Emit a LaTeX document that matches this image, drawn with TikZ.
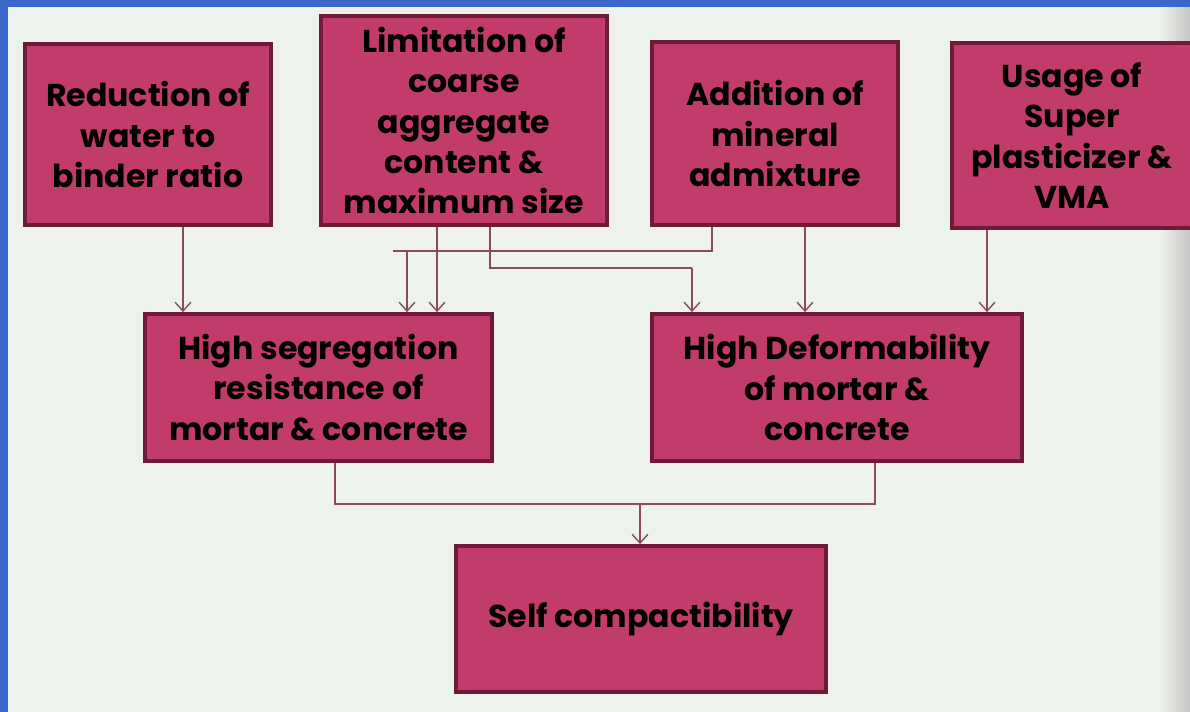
\documentclass[tikz,border=0pt]{standalone}
\usepackage{fontspec}
\setmainfont{Poppins}
\usetikzlibrary{arrows.meta, positioning, calc}
\definecolor{boxfill}{HTML}{C13B6B}
\definecolor{boxedge}{HTML}{6E1A38}
\definecolor{linkcol}{HTML}{8C4A5E}
\definecolor{paper}{HTML}{EEF2EC}
\definecolor{frame}{HTML}{3A67C8}

\begin{document}
\begin{tikzpicture}[x=0.02cm, y=-0.02cm,
    block/.style={rectangle, draw=boxedge, fill=boxfill, line width=2.2pt, align=center, inner sep=0pt, font=\bfseries\fontsize{18}{23}\selectfont},
    link/.style={draw=linkcol, line width=0.8pt},
    arr/.style={link, -{Straight Barb[length=5pt, width=9pt]}},
]

% page and frame
\fill[paper] (0,0) rectangle (1190,712);
\useasboundingbox (0,0) rectangle (1190,712);
\clip (0,0) rectangle (1190,712);
\shade[left color=paper, right color=gray!45] (1160,0) rectangle (1190,712);
\fill[frame] (0,0) rectangle (1190,7);
\fill[frame] (0,0) rectangle (8,712);

% causes
\node[block, minimum width=4.92cm, minimum height=3.62cm] (water) at (148,134.5) {Reduction of\\water to\\binder ratio};
\node[block, minimum width=5.72cm, minimum height=4.18cm] (coarse) at (464,120.5) {Limitation of\\coarse\\aggregate\\content \&\\maximum size};
\node[block, minimum width=4.92cm, minimum height=3.66cm] (mineral) at (775,133.5) {Addition of\\mineral\\admixture};
\node[block, minimum width=4.8cm, minimum height=3.7cm] (super) at (1072,135.5) {Usage of\\Super\\plasticizer \&\\VMA};

% effects
\node[block, minimum width=6.94cm, minimum height=2.94cm] (segr) at (318.5,387.5) {High segregation\\resistance of\\mortar \& concrete};
\node[block, minimum width=7.4cm, minimum height=2.94cm] (deform) at (837,387.5) {High Deformability\\of mortar \&\\concrete};
\node[block, minimum width=7.4cm, minimum height=2.92cm] (self) at (641,619) {Self compactibility};

% columns and rails
\coordinate (xa) at (183,0);
\coordinate (xb) at (407,0);
\coordinate (xc) at (437,0);
\coordinate (xd) at (490,0);
\coordinate (xe) at (692,0);
\coordinate (xf) at (712,0);
\coordinate (xg) at (805,0);
\coordinate (xh) at (987,0);
\coordinate (xi) at (335,0);
\coordinate (xj) at (875,0);
\coordinate (xk) at (640,0);
\coordinate (railA) at (393,251);
\coordinate (railB) at (0,268);
\coordinate (railC) at (0,504);

\draw[arr] (water.south -| xa) -- (segr.north -| xa);
\draw[arr] (coarse.south -| xc) -- (segr.north -| xc);
\draw[link] (mineral.south -| xf) |- (railA);
\draw[arr] (railA -| xb) -- (segr.north -| xb);
\draw[link] (coarse.south -| xd) |- (railB -| xe);
\draw[arr] (railB -| xe) -- (deform.north -| xe);
\draw[arr] (mineral.south -| xg) -- (deform.north -| xg);
\draw[arr] (super.south -| xh) -- (deform.north -| xh);
\draw[link] (segr.south -| xi) |- (railC -| xj) -- (deform.south -| xj);
\draw[arr] (railC -| xk) -- (self.north -| xk);

\end{tikzpicture}
\end{document}
